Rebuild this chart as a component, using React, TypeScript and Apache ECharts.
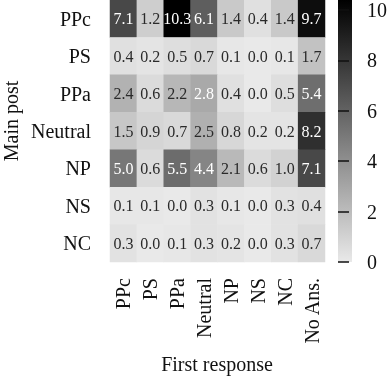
import React, { useEffect, useRef } from "react";
import * as echarts from "echarts";

const responses = ["PPc", "PS", "PPa", "Neutral", "NP", "NS", "NC", "No Ans."];
const posts = ["PPc", "PS", "PPa", "Neutral", "NP", "NS", "NC"];

const rowPPc = [7.1, 1.2, 10.3, 6.1, 1.4, 0.4, 1.4, 9.7];
const rowPS = [0.4, 0.2, 0.5, 0.7, 0.1, 0.0, 0.1, 1.7];
const rowPPa = [2.4, 0.6, 2.2, 2.8, 0.4, 0.0, 0.5, 5.4];
const rowNeutral = [1.5, 0.9, 0.7, 2.5, 0.8, 0.2, 0.2, 8.2];
const rowNP = [5.0, 0.6, 5.5, 4.4, 2.1, 0.6, 1.0, 7.1];
const rowNS = [0.1, 0.1, 0.0, 0.3, 0.1, 0.0, 0.3, 0.4];
const rowNC = [0.3, 0.0, 0.1, 0.3, 0.2, 0.0, 0.3, 0.7];

const rows = [rowPPc, rowPS, rowPPa, rowNeutral, rowNP, rowNS, rowNC];

const colorbarTicks = [0, 2, 4, 6, 8, 10];

const FONT = "Liberation Serif";

export default function App() {
  const ref = useRef<HTMLDivElement>(null);
  useEffect(() => {
    if (!ref.current) return;
    const chart = echarts.init(ref.current, null, { renderer: "svg" });
    const data: any[] = [];
    rows.forEach((row, yi) => {
      row.forEach((v, xi) => {
        data.push({
          value: [xi, yi, v],
          label: { color: v >= 2.7 ? "#ffffff" : "#2a2a2a" },
        });
      });
    });
    const labelStyle = {
      fontSize: 20,
      fontFamily: FONT,
      color: "#111",
    };
    chart.setOption({
      animation: false,
      grid: [
        { left: 110, top: 0, width: 215, height: 262 },
        { left: 338, top: 6, width: 14, height: 256 },
      ],
      xAxis: [
        {
          type: "category",
          gridIndex: 0,
          data: responses,
          axisLine: { show: false },
          axisTick: { show: false },
          splitLine: { show: false },
          axisLabel: { ...labelStyle, rotate: 90, margin: 16 },
        },
        { type: "value", gridIndex: 1, show: false, min: 0, max: 1 },
      ],
      yAxis: [
        {
          type: "category",
          gridIndex: 0,
          data: posts,
          inverse: true,
          axisLine: { show: false },
          axisTick: { show: false },
          splitLine: { show: false },
          axisLabel: { ...labelStyle, margin: 19 },
        },
        {
          type: "value",
          gridIndex: 1,
          min: colorbarTicks[0],
          max: colorbarTicks[colorbarTicks.length - 1],
          interval: 2,
          position: "right",
          axisLine: { show: false },
          splitLine: { show: false },
          axisTick: {
            show: true,
            length: 11,
            lineStyle: { color: "#111", width: 1.5 },
          },
          axisLabel: { ...labelStyle, margin: 18 },
        },
      ],
      visualMap: {
        show: false,
        type: "continuous",
        min: 0,
        max: 10.25,
        seriesIndex: 0,
        inRange: { color: ["#e9e9e9", "#000000"] },
      },
      graphic: [
        {
          type: "rect",
          shape: { x: 338, y: 0, width: 14, height: 262 },
          style: {
            fill: new echarts.graphic.LinearGradient(0, 0, 0, 1, [
              { offset: 0, color: "#000000" },
              { offset: 1, color: "#e9e9e9" },
            ]),
          },
          z: -1,
        },
        {
          type: "text",
          x: 11,
          y: 121,
          rotation: Math.PI / 2,
          style: {
            text: "Main post",
            fontSize: 20,
            fontFamily: FONT,
            fill: "#111",
            align: "center",
            verticalAlign: "middle",
          },
        },
        {
          type: "text",
          x: 217,
          y: 364,
          style: {
            text: "First response",
            fontSize: 20,
            fontFamily: FONT,
            fill: "#111",
            align: "center",
            verticalAlign: "middle",
          },
        },
      ],
      series: [
        {
          type: "heatmap",
          xAxisIndex: 0,
          yAxisIndex: 0,
          data,
          label: {
            show: true,
            fontSize: 16,
            fontFamily: FONT,
            formatter: (p: any) => Number(p.value[2]).toFixed(1),
          },
          itemStyle: { borderWidth: 0 },
          emphasis: { disabled: true },
        },
      ],
    });
    return () => chart.dispose();
  }, []);
  return (
    <div
      ref={ref}
      style={{ position: "fixed", left: 0, top: 0, width: 390, height: 378 }}
    />
  );
}
